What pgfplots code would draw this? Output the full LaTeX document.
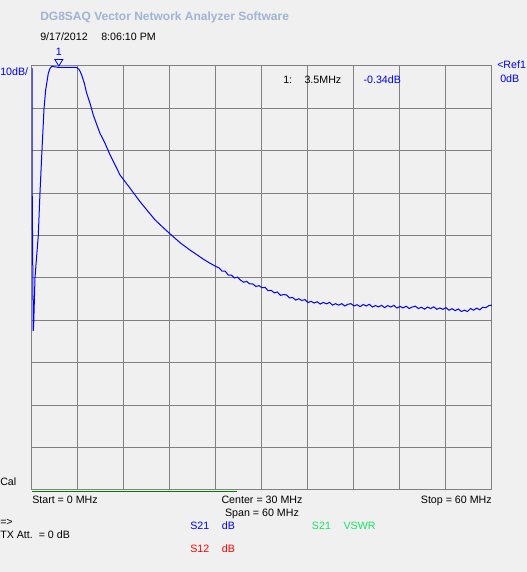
\documentclass[border=0pt]{standalone}
\usepackage{pgfplots}
\pgfplotsset{compat=1.18}
\usepackage{fontspec}
\setmainfont{Liberation Sans}

\definecolor{bg}{RGB}{240,240,240}
\definecolor{gridgray}{RGB}{128,128,128}
\definecolor{trace}{RGB}{0,0,255}
\definecolor{titleblue}{RGB}{160,180,210}
\definecolor{vswr}{RGB}{20,230,100}
\definecolor{s12}{RGB}{255,0,0}
\definecolor{bar}{RGB}{0,128,0}

\begin{document}
\fontsize{8}{9.6}\selectfont
% picture in screen pixels: 1px = 0.75pt, y counted from the bottom
\begin{tikzpicture}[x=0.75pt,y=0.75pt]
\fill[bg] (0,0) rectangle (527,572);
\useasboundingbox (0,0) rectangle (527,572);

\begin{axis}[
    at={(24pt,61.5pt)}, anchor=south west,
    scale only axis, width=345pt, height=318pt,
    xmin=0, xmax=60, ymin=-100, ymax=0,
    xtick={0,6,...,60}, ytick={-100,-90,...,0},
    xticklabels={}, yticklabels={},
    major tick length=0pt,
    grid=major,
    grid style={color=gridgray, line width=0.75pt},
    axis line style={color=gridgray, line width=0.75pt},
  ]
\addplot[trace, line width=0.75pt] coordinates {
  (0,-0.5) (0.03,-30) (0.16,-62.5) (0.22,-61) (0.39,-50) (0.6,-45)
  (0.82,-40) (1.04,-30) (1.26,-21.4) (1.57,-10) (1.78,-5.7) (2.13,-1.7)
  (2.35,-0.55) (2.6,-0.05) (2.78,-0.15) (3.5,-0.34) (4.5,-0.3) (5.83,-0.3)
  (6.17,-0.9) (6.48,-2.1) (6.83,-4.1) (7.13,-6.4) (7.57,-8.8) (8.0,-11.6)
  (8.87,-15.9) (9.52,-18.2) (10.09,-20.6) (10.83,-23.3) (11.48,-25.7)
  (12.78,-28.8) (14.09,-32.0) (15.0,-34.0) (16.0,-36.2) (17.1,-38.1)
  (18.2,-39.9) (19.4,-41.8) (20.6,-43.4) (21.5,-44.5) (22.3,-45.5)
  (23.2,-46.5)
  (24.0,-47.3) (24.4,-47.6) (24.8,-48.4) (25.2,-48.4) (25.6,-49.3)
  (26.0,-49.3) (26.4,-50.0) (26.8,-49.8) (27.2,-50.5) (27.6,-51.0)
  (28.0,-50.8) (28.4,-51.4) (28.8,-51.4) (29.2,-52.0) (29.6,-51.8)
  (30.0,-52.3) (30.4,-52.2) (30.8,-53.0) (31.2,-52.9) (31.6,-53.5)
  (32.0,-53.3) (32.4,-54.1) (32.8,-53.9) (33.2,-54.0) (33.6,-54.7)
  (34.0,-54.6) (34.4,-55.2) (34.8,-54.9) (35.2,-55.3) (35.6,-55.1)
  (36.0,-55.8) (36.4,-55.5) (36.8,-55.9) (37.2,-55.6) (37.6,-56.15)
  (38.0,-55.75) (38.4,-56.1) (38.8,-55.75) (39.2,-56.4) (39.6,-56.05)
  (40.0,-56.4) (40.4,-56.05) (40.8,-56.6) (41.2,-56.2) (41.6,-56.05)
  (42.0,-56.6) (42.4,-56.3) (42.8,-56.75) (43.2,-56.25) (43.6,-56.6)
  (44.0,-56.2) (44.4,-56.85) (44.8,-56.5) (45.2,-56.8) (45.6,-56.45)
  (46.0,-57.0) (46.4,-56.5) (46.8,-56.85) (47.2,-56.45) (47.6,-57.1)
  (48.0,-56.7) (48.4,-57.05) (48.8,-56.65) (49.2,-57.2) (49.6,-56.85)
  (50.0,-56.65) (50.4,-57.2) (50.8,-56.9) (51.2,-57.35) (51.6,-56.85)
  (52.0,-57.2) (52.4,-56.8) (52.8,-57.4) (53.2,-57.05) (53.6,-57.4)
  (54.0,-57.0) (54.4,-57.6) (54.8,-57.25) (55.2,-57.7) (55.6,-57.3)
  (56.0,-57.9) (56.4,-57.6) (56.8,-57.9) (57.2,-57.2) (57.6,-57.6)
  (58.0,-57.1) (58.4,-57.5) (58.8,-56.9) (59.2,-57.0) (59.6,-56.5)
  (60.0,-56.4)
};
\coordinate (m1) at (axis cs:3.5,0);
\end{axis}

% marker 1 above the trace
\draw[trace, line width=0.6pt] (m1) -- ++(-4,6.5) -- ++(8,0) -- cycle;
\node[trace, anchor=base, inner sep=0pt] at ([yshift=7.8pt]m1) {1};

% progress bar under the grid
\draw[bar, line width=0.9pt] (32,80.7) -- (237,80.7);

% texts
\node[anchor=base west, inner sep=0pt, text=titleblue, font=\fontsize{9}{11}\bfseries] at (40,551) {DG8SAQ\ Vector\ Network\ Analyzer\ Software};
\node[anchor=base west, inner sep=0pt] at (40,531.3) {9/17/2012};
\node[anchor=base west, inner sep=0pt] at (101,531.3) {8:06:10 PM};
\node[anchor=base west, inner sep=0pt, text=trace] at (0,496) {10dB/};
\node[anchor=base west, inner sep=0pt, text=trace] at (497,503) {<Ref1};
\node[anchor=base west, inner sep=0pt, text=trace] at (500,489.7) {0dB};
\node[anchor=base west, inner sep=0pt] at (283,488) {1:};
\node[anchor=base west, inner sep=0pt] at (304.3,488) {3.5MHz};
\node[anchor=base west, inner sep=0pt, text=trace] at (363.3,488) {-0.34dB};
\node[anchor=base west, inner sep=0pt] at (0,86) {Cal};
\node[anchor=base west, inner sep=0pt] at (32,68.7) {Start = 0 MHz};
\node[anchor=base, inner sep=0pt] at (262,68.7) {Center = 30 MHz};
\node[anchor=base east, inner sep=0pt] at (492,68.7) {Stop = 60 MHz};
\node[anchor=base, inner sep=0pt] at (262,55.3) {Span = 60 MHz};
\node[anchor=base west, inner sep=0pt] at (0,46.5) {=>};
\node[anchor=base west, inner sep=0pt] at (0,33.7) {TX Att.\ \ = 0 dB};
\node[anchor=base west, inner sep=0pt, text=trace] at (190,42.7) {S21};
\node[anchor=base west, inner sep=0pt, text=trace] at (221.7,42.7) {dB};
\node[anchor=base west, inner sep=0pt, text=s12] at (190,19.7) {S12};
\node[anchor=base west, inner sep=0pt, text=s12] at (221.7,19.7) {dB};
\node[anchor=base west, inner sep=0pt, text=vswr] at (311.7,42.7) {S21};
\node[anchor=base west, inner sep=0pt, text=vswr] at (343.3,42.7) {VSWR};
\end{tikzpicture}
\end{document}
